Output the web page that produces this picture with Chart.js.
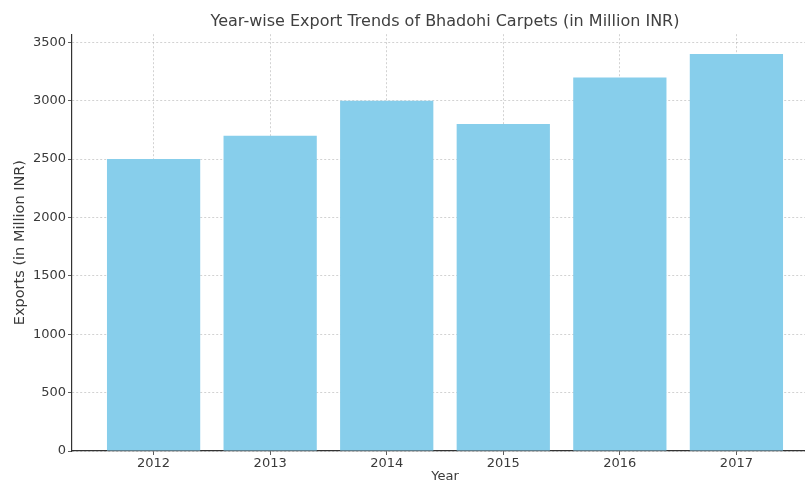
<!DOCTYPE html>
<html>
<head>
<meta charset="utf-8">
<script src="https://cdn.jsdelivr.net/npm/chart.js@4"></script>
<style>
    html, body { margin: 0; padding: 0; background: #fff; overflow: hidden; }
    #wrap { width: 818px; height: 484px; }
</style>
</head>
<body>
<div id="wrap"><canvas id="exportChart" width="818" height="484"></canvas></div>
<script>
// ========================================================================
// 데이터
// ========================================================================
const years = [2012, 2013, 2014, 2015, 2016, 2017];
const exportsMillionINR = [2500, 2700, 3000, 2800, 3200, 3400];
const yTicks = [0, 500, 1000, 1500, 2000, 2500, 3000, 3500];

const barColor = '#87CEEB';
const textColor = '#3a3a3a';
const gridColor = 'rgba(160, 160, 160, 0.6)';

Chart.defaults.font.family = "'DejaVu Sans', sans-serif";
Chart.defaults.color = textColor;

function initExportChart() {
    const ctx = document.getElementById('exportChart');

    new Chart(ctx, {
        type: 'bar',
        data: {
            datasets: [{
                label: 'Exports',
                data: years.map((y, i) => ({ x: y, y: exportsMillionINR[i] })),
                backgroundColor: barColor,
                borderWidth: 0,
                categoryPercentage: 1.0,
                barPercentage: 0.8
            }]
        },
        options: {
            responsive: false,
            animation: false,
            layout: { padding: 0 },
            plugins: {
                legend: { display: false },
                tooltip: { enabled: false },
                title: {
                    display: true,
                    text: 'Year-wise Export Trends of Bhadohi Carpets (in Million INR)',
                    fullSize: false,
                    color: '#404040',
                    font: { size: 16, weight: 'normal' },
                    padding: { top: 12, bottom: 3 }
                }
            },
            scales: {
                x: {
                    type: 'linear',
                    min: 2011.3,
                    max: 2017.7,
                    offset: false,
                    z: 1,
                    afterBuildTicks: (scale) => {
                        scale.ticks = years.map(v => ({ value: v }));
                    },
                    afterFit: (scale) => { scale.height = 33; },
                    ticks: {
                        callback: (v) => String(v),
                        font: { size: 13 },
                        padding: 1,
                        maxRotation: 0
                    },
                    grid: {
                        color: gridColor,
                        lineWidth: 0.8,
                        tickColor: '#333',
                        tickLength: 4,
                        offset: false
                    },
                    border: { display: true, color: '#333', width: 1.2, dash: [2, 2] },
                    title: {
                        display: true,
                        text: 'Year',
                        font: { size: 13 },
                        padding: 0
                    }
                },
                y: {
                    min: 0,
                    max: 3570,
                    z: 1,
                    afterBuildTicks: (scale) => {
                        scale.ticks = yTicks.map(v => ({ value: v }));
                    },
                    afterFit: (scale) => { scale.width = 72; },
                    ticks: {
                        callback: (v) => String(v),
                        font: { size: 13 },
                        padding: 2
                    },
                    grid: {
                        color: gridColor,
                        lineWidth: 0.8,
                        tickColor: '#333',
                        tickLength: 4
                    },
                    border: { display: true, color: '#333', width: 1.2, dash: [2, 2] },
                    title: {
                        display: true,
                        text: 'Exports (in Million INR)',
                        font: { size: 14.5 },
                        padding: { top: 12, bottom: 0 }
                    }
                }
            }
        }
    });
}

initExportChart();
</script>
</body>
</html>
